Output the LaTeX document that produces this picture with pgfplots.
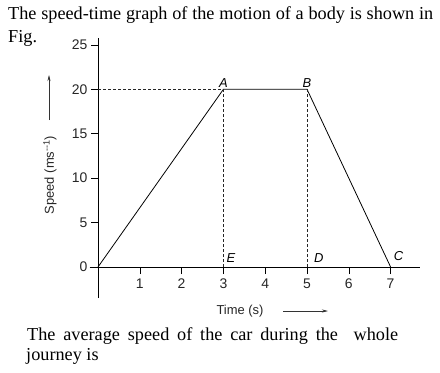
\documentclass[border=0pt]{standalone}
\usepackage{fontspec}
\setmainfont{Liberation Serif}
\newfontfamily\arial{Liberation Sans}
\usepackage{pgfplots}
\pgfplotsset{compat=1.18}
\usetikzlibrary{arrows.meta}
\begin{document}
\begin{tikzpicture}[x=1bp,y=1bp]
\useasboundingbox (0,0) rectangle (440,372);
% question text
\node[anchor=base west,inner sep=0] at (8,353) {\fontsize{18.3}{23}\selectfont\hbox to 425bp{The\hfil speed-time\hfil graph\hfil of\hfil the\hfil motion\hfil of\hfil a\hfil body\hfil is\hfil shown\hfil in}};
\node[anchor=base west,inner sep=0] at (8,330) {\fontsize{18.3}{23}\selectfont Fig.};
\node[anchor=base west,inner sep=0] at (27,32) {\fontsize{18.3}{23}\selectfont\hbox to 371bp{The\hfil average\hfil speed\hfil of\hfil the\hfil car\hfil during\hfil the\hfil\hfil whole}};
\node[anchor=base west,inner sep=0] at (26,12) {\fontsize{18.3}{23}\selectfont journey is};
\begin{axis}[
  at={(89.64bp,73.90bp)}, anchor=south west,
  x=41.8bp, y=8.885bp,
  xmin=-0.2, xmax=7.7, ymin=-3.5, ymax=25.8,
  axis lines=middle,
  axis line style={-, black, line width=0.7pt},
  tick align=outside,
  major tick length=7bp,
  tick style={black, line width=0.6pt},
  xtick={1,2,3,4,5,6,7},
  ytick={0,5,10,15,20,25},
  hide obscured y ticks=false,
  hide obscured x ticks=true,
  tick label style={font=\arial\fontsize{14}{14}\selectfont, text=black!85},
  /pgf/number format/assume math mode=true,
  xticklabel style={yshift=-1bp},
  clip=false,
]
\addplot[black, line width=0.8pt] coordinates {(0,0) (3,20) (5,20) (7,0)};
\addplot[black!85, line width=0.6pt, dash pattern=on 3bp off 2bp] coordinates {(0,20) (3,20)};
\addplot[black!85, line width=0.6pt, dash pattern=on 3bp off 2bp] coordinates {(3,0) (3,20)};
\addplot[black!85, line width=0.6pt, dash pattern=on 3bp off 2bp] coordinates {(5,0) (5,20)};
\node[anchor=south, inner sep=1.5bp, font=\arial\itshape\fontsize{13}{13}\selectfont] at (axis cs:3,20) {A};
\node[anchor=south, inner sep=1.5bp, font=\arial\itshape\fontsize{13}{13}\selectfont] at (axis cs:5,20) {B};
\node[anchor=base west, inner sep=0, font=\arial\itshape\fontsize{13}{13}\selectfont] at ([xshift=3bp,yshift=5bp]axis cs:3,0) {E};
\node[anchor=base west, inner sep=0, font=\arial\itshape\fontsize{13}{13}\selectfont] at ([xshift=7bp,yshift=5bp]axis cs:5,0) {D};
\node[anchor=base west, inner sep=0, font=\arial\itshape\fontsize{13}{13}\selectfont] at ([xshift=3bp,yshift=7bp]axis cs:7,0) {C};
\end{axis}
% axis labels with arrows
\node[font=\arial\fontsize{13}{13}\selectfont, text=black!85] at (240,61) {Time (s)};
\draw[black!80, line width=0.6pt, -{Stealth[length=6bp,width=3bp]}] (283,61) -- (328,61);
\node[rotate=90, font=\arial\fontsize{13}{13}\selectfont, text=black!85] at (50,197) {Speed (ms\textsuperscript{--1})};
\draw[black!80, line width=0.6pt, -{Stealth[length=6bp,width=3bp]}] (49,252) -- (49,297);
\end{tikzpicture}
\end{document}
